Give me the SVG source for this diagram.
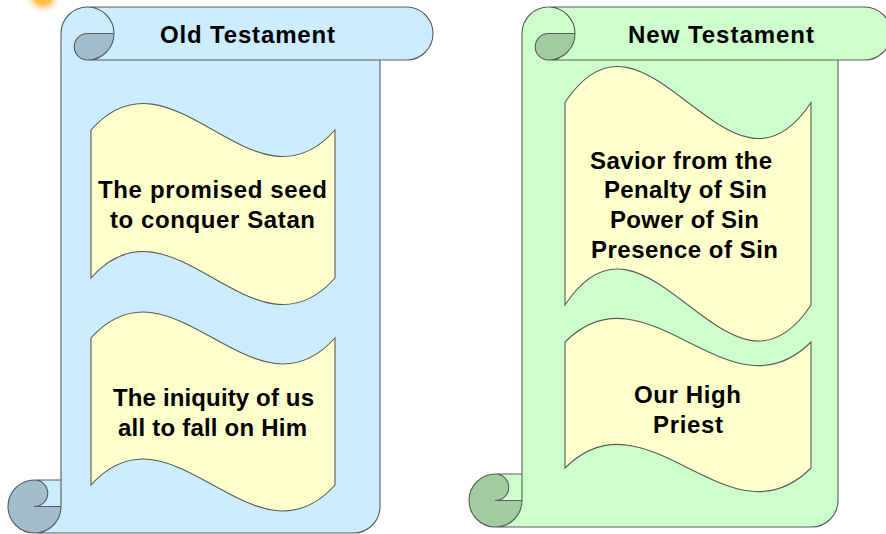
<svg xmlns="http://www.w3.org/2000/svg" width="886" height="534" viewBox="0 0 886 534">
<style>
.ln{fill:none;stroke:#5a5a5a;stroke-width:1.1;stroke-linejoin:round}
.bfill{fill:#CCECFF}
.bdark{fill:#A3BDCC}
.gfill{fill:#CCFFCC}
.gdark{fill:#A3CCA3}
.banner{fill:#FFFFCC;stroke:#5a5a5a;stroke-width:1.1}
.t{font-family:"Liberation Sans",Arial,sans-serif;font-weight:bold;font-size:24px;fill:#000}
</style>
<defs>
<radialGradient id="glow" cx="0.5" cy="0.5" r="0.5">
<stop offset="0" stop-color="#FFD400"/>
<stop offset="0.45" stop-color="#FFB030" stop-opacity="0.85"/>
<stop offset="1" stop-color="#FFFFFF" stop-opacity="0"/>
</radialGradient>
</defs>
<rect width="886" height="534" fill="#FFFFFF"/>
<circle cx="43" cy="-5" r="20" fill="url(#glow)"/>

<g id="scroll-old">
<path class="bfill" d="M 34.5,533 A 26.5 26.5 0 0 1 8,506.5 A 26.5 26.5 0 0 1 34.5,480 L 61,480 L 61,33.5 A 26.5 26.5 0 0 1 87.5,7 L 406.5,7 A 26.5 26.5 0 0 1 406.5,60 L 380,60 L 380,506.5 A 26.5 26.5 0 0 1 353.5,533 Z"/>
<path class="bdark" d="M 34.5,480 A 26.5 26.5 0 0 0 8,506.5 A 26.5 26.5 0 0 0 34.5,533 A 26.5 26.5 0 0 0 61,506.5 L 34.5,506.5 A 13.25 13.25 0 0 0 34.5,480 Z"/>
<path class="bdark" d="M 114,33.5 A 26.5 26.5 0 0 1 87.5,60 A 13.25 13.25 0 0 1 87.5,33.5 Z"/>
<path class="ln" d="M 61,480 L 61,33.5 A 26.5 26.5 0 0 1 87.5,7 L 406.5,7 A 26.5 26.5 0 0 1 406.5,60 L 380,60 L 380,506.5 A 26.5 26.5 0 0 1 353.5,533 L 34.5,533 A 26.5 26.5 0 0 1 34.5,480 Z M 87.5,7 A 26.5 26.5 0 0 1 87.5,60 A 13.25 13.25 0 0 1 87.5,33.5 L 114,33.5 M 380,60 L 87.5,60 M 34.5,480 A 13.25 13.25 0 0 1 34.5,506.5 L 61,506.5 M 34.5,533 A 26.5 26.5 0 0 0 61,506.5 L 61,480"/>
<text class="t" x="160" y="43" textLength="175">Old Testament</text>
</g>

<g id="scroll-new">
<path class="gfill" d="M 495.5,527 A 26.5 26.5 0 0 1 469,500.5 A 26.5 26.5 0 0 1 495.5,474 L 522,474 L 522,33.5 A 26.5 26.5 0 0 1 548.5,7 L 864.5,7 A 26.5 26.5 0 0 1 864.5,60 L 838,60 L 838,500.5 A 26.5 26.5 0 0 1 811.5,527 Z"/>
<path class="gdark" d="M 495.5,474 A 26.5 26.5 0 0 0 469,500.5 A 26.5 26.5 0 0 0 495.5,527 A 26.5 26.5 0 0 0 522,500.5 L 495.5,500.5 A 13.25 13.25 0 0 0 495.5,474 Z"/>
<path class="gdark" d="M 575,33.5 A 26.5 26.5 0 0 1 548.5,60 A 13.25 13.25 0 0 1 548.5,33.5 Z"/>
<path class="ln" d="M 522,474 L 522,33.5 A 26.5 26.5 0 0 1 548.5,7 L 864.5,7 A 26.5 26.5 0 0 1 864.5,60 L 838,60 L 838,500.5 A 26.5 26.5 0 0 1 811.5,527 L 495.5,527 A 26.5 26.5 0 0 1 495.5,474 Z M 548.5,7 A 26.5 26.5 0 0 1 548.5,60 A 13.25 13.25 0 0 1 548.5,33.5 L 575,33.5 M 838,60 L 548.5,60 M 495.5,474 A 13.25 13.25 0 0 1 495.5,500.5 L 522,500.5 M 495.5,527 A 26.5 26.5 0 0 0 522,500.5 L 522,474"/>
<text class="t" x="628" y="43" textLength="186">New Testament</text>
</g>

<g id="banner-seed">
<path class="banner" d="M 91,130 C 172.3,38 253.7,222 335,130 L 335,278 C 253.7,370 172.3,186 91,278 Z"/>
<text class="t" x="98" y="198" textLength="229">The promised seed</text>
<text class="t" x="110" y="228" textLength="205">to conquer Satan</text>
</g>

<g id="banner-iniquity">
<path class="banner" d="M 91,338 C 172.3,248 253.7,428 335,338 L 335,485 C 253.7,575 172.3,395 91,485 Z"/>
<text class="t" x="113" y="406" textLength="201">The iniquity of us</text>
<text class="t" x="118" y="436" textLength="189">all to fall on Him</text>
</g>

<g id="banner-savior">
<path class="banner" d="M 565,102.5 C 647,-22.5 729,227.5 811,102.5 L 811,305 C 729,430 647,180 565,305 Z"/>
<text class="t" x="590" y="169" textLength="182">Savior from the</text>
<text class="t" x="604" y="198" textLength="163">Penalty of Sin</text>
<text class="t" x="610" y="228" textLength="149">Power of Sin</text>
<text class="t" x="591" y="258" textLength="187">Presence of Sin</text>
</g>

<g id="banner-priest">
<path class="banner" d="M 565,342 C 647,260 729,424 811,342 L 811,468 C 729,550 647,386 565,468 Z"/>
<text class="t" x="634" y="403" textLength="107">Our High</text>
<text class="t" x="653" y="433" textLength="70">Priest</text>
</g>

<g id="connectors"/>
</svg>
